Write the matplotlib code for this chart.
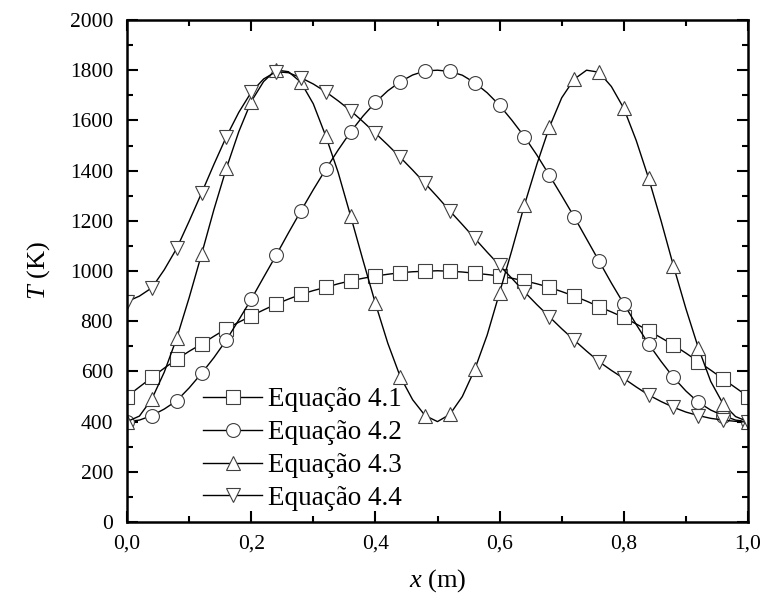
import matplotlib
matplotlib.use('Agg')
import matplotlib.pyplot as plt
import numpy as np
from matplotlib.ticker import MultipleLocator, FuncFormatter


plt.rcParams['font.family'] = ['Liberation Serif', 'DejaVu Serif']
plt.rcParams['mathtext.fontset'] = 'custom'
plt.rcParams['mathtext.rm'] = 'Liberation Serif'
plt.rcParams['mathtext.it'] = 'Liberation Serif:italic'

# x positions every 0.02 m, markers on every second point
x = np.round(np.arange(0, 1.0001, 0.02), 2)

eq41 = [500, 538, 576, 613, 648, 680, 709, 740, 770, 796, 821, 845, 868,
        888, 907, 922, 935, 949, 961, 971, 980, 987, 993, 997, 999, 1001,
        999, 996, 991, 986, 980, 971, 961, 949, 935, 918, 900, 880, 858,
        837, 815, 789, 762, 734, 705, 673, 639, 605, 570, 535, 500]

eq42 = [400, 406, 424, 450, 483, 534, 592, 655, 725, 805, 887, 975, 1062,
        1152, 1239, 1324, 1405, 1482, 1554, 1617, 1672, 1718, 1754, 1781,
        1797, 1800, 1795, 1780, 1750, 1710, 1660, 1600, 1535, 1462, 1382,
        1300, 1216, 1128, 1040, 952, 869, 787, 709, 640, 576, 522, 477,
        446, 424, 406, 400]

eq43 = [400, 422, 490, 597, 732, 893, 1066, 1245, 1409, 1555, 1675, 1755,
        1801, 1794, 1752, 1666, 1538, 1393, 1220, 1043, 871, 712, 579, 487,
        424, 400, 429, 500, 608, 745, 914, 1085, 1263, 1425, 1572, 1690,
        1764, 1800, 1792, 1735, 1648, 1520, 1369, 1200, 1020, 850, 694,
        560, 470, 420, 400]

eq44 = [878, 900, 933, 1005, 1090, 1198, 1310, 1425, 1535, 1632, 1712,
        1765, 1794, 1790, 1770, 1745, 1714, 1678, 1639, 1595, 1549, 1502,
        1453, 1402, 1349, 1295, 1239, 1185, 1130, 1075, 1022, 970, 917,
        866, 818, 770, 725, 681, 639, 604, 572, 538, 506, 480, 457, 438,
        424, 413, 406, 401, 398]

labels = ['Equação 4.1', 'Equação 4.2', 'Equação 4.3', 'Equação 4.4']
markers = ['s', 'o', '^', 'v']

fig = plt.figure(figsize=(7.63, 5.96), dpi=100)
ax = fig.add_axes([127 / 763, 1 - 522 / 596, 621 / 763, 502 / 596])

for y, m, lab in zip([eq41, eq42, eq43, eq44], markers, labels):
    ax.plot(x, y, color='black', lw=1.0, marker=m, markevery=2,
            markersize=10, mfc='white', mec='0.25', mew=0.8, label=lab)

ax.set_xlim(0, 1.0)
ax.set_ylim(0, 2000)
ax.xaxis.set_major_locator(MultipleLocator(0.2))
ax.xaxis.set_minor_locator(MultipleLocator(0.1))
ax.yaxis.set_major_locator(MultipleLocator(200))
ax.yaxis.set_minor_locator(MultipleLocator(100))
ax.xaxis.set_major_formatter(FuncFormatter(lambda v, p: f'{v:.1f}'.replace('.', ',')))
ax.tick_params(which='both', direction='in', top=True, right=True,
               labelsize=15.5, width=1.5)
ax.tick_params(which='major', length=8)
ax.tick_params(which='minor', length=4)
ax.tick_params(axis='x', pad=9)
ax.tick_params(axis='y', pad=10)
for s in ax.spines.values():
    s.set_linewidth(1.8)

ax.set_xlabel(r'$x$ (m)', fontsize=19, labelpad=10)
ax.set_ylabel(r'$T$ (K)', fontsize=19, labelpad=13)

ax.legend(loc='lower left', bbox_to_anchor=(0.122, 0.022), frameon=False,
          fontsize=19.5, handlelength=2.2, handletextpad=0.2,
          labelspacing=0.29, borderpad=0.0, borderaxespad=0.0)

fig.savefig('out.png', dpi=100)
